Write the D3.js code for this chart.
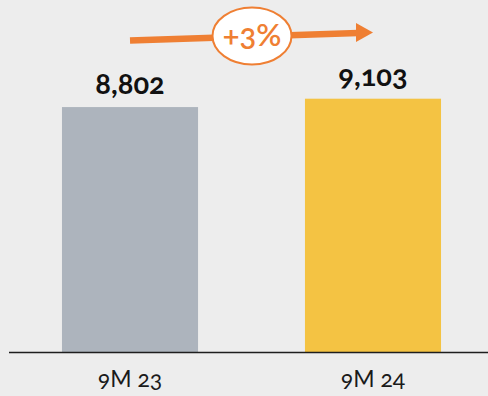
<!DOCTYPE html>
<html>
<head>
<meta charset="utf-8">
<script src="https://cdn.jsdelivr.net/npm/d3@7/dist/d3.min.js"></script>
<style>
  html, body { margin: 0; padding: 0; background: #ededed; }
  svg { display: block; }
  text { font-family: Lato, "Open Sans", sans-serif; font-variant-numeric: oldstyle-nums; font-feature-settings: "onum" 1; }
</style>
</head>
<body>
<svg id="chart" width="488" height="396"></svg>
<script>
const categories = ["9M 23", "9M 24"];
const values = [8802, 9103];
const valueLabels = ["8,802", "9,103"];
const colors = ["#adb4bd", "#f4c343"];
const changeLabel = "+3%";

const W = 488, H = 396;
const svg = d3.select("#chart");
svg.append("rect").attr("width", W).attr("height", H).attr("fill", "#ededed");

const x = d3.scaleBand().domain(categories).range([9, 494]).paddingInner(0.44).paddingOuter(0.218);
const y = d3.scaleLinear().domain([0, 12650]).range([352, 0]);

svg.selectAll("rect.bar").data(values).join("rect")
  .attr("class", "bar")
  .attr("x", (d, i) => x(categories[i]))
  .attr("width", x.bandwidth())
  .attr("y", d => y(d))
  .attr("height", d => y(0) - y(d))
  .attr("fill", (d, i) => colors[i]);

// baseline axis
const axis = d3.axisBottom(x).tickSize(0).tickPadding(0);
const gAxis = svg.append("g").attr("transform", `translate(0,${y(0)})`).call(axis);
gAxis.select(".domain").remove();
gAxis.append("line").attr("x1", 9).attr("x2", W).attr("y1", 0.5).attr("y2", 0.5)
  .attr("stroke", "#1e1e1e").attr("stroke-width", 1.6);
gAxis.selectAll(".tick text")
  .attr("dy", null).attr("y", 35)
  .attr("fill", "#1a1a1a")
  .style("font-size", "23px")
  .style("font-family", "Lato, 'Open Sans', sans-serif");

// value labels
svg.selectAll("text.val").data(values).join("text")
  .attr("class", "val")
  .attr("x", (d, i) => x(categories[i]) + x.bandwidth() / 2)
  .attr("y", d => y(d) - 13)
  .attr("text-anchor", "middle")
  .attr("fill", "#111")
  .style("font-size", "29px")
  .style("font-weight", "bold")
  .text((d, i) => valueLabels[i]);

// growth arrow
const c0 = x(categories[0]) + x.bandwidth() / 2;
const c1 = x(categories[1]) + x.bandwidth() / 2;
const orange = "#ef7f33";
const y0a = 40.5, y1a = 32.5;
const headLen = 17;
svg.append("line")
  .attr("x1", c0).attr("y1", y0a)
  .attr("x2", c1 - headLen + 2).attr("y2", y1a + (y0a - y1a) * (headLen / (c1 - c0)))
  .attr("stroke", orange).attr("stroke-width", 6.5);
svg.append("path")
  .attr("d", `M${c1 - headLen},${y1a - 9.5} L${c1},${y1a} L${c1 - headLen},${y1a + 9.5} Z`)
  .attr("fill", orange);

const cx = (c0 + c1) / 2 + 0.5;
svg.append("ellipse")
  .attr("cx", cx).attr("cy", 36).attr("rx", 39.5).attr("ry", 28.5)
  .attr("fill", "#ffffff").attr("stroke", orange).attr("stroke-width", 2);
svg.append("text")
  .attr("x", cx).attr("y", 46)
  .attr("text-anchor", "middle")
  .attr("fill", orange)
  .style("font-size", "31px")
  .style("font-weight", "600")
  .text(changeLabel);
</script>
</body>
</html>
